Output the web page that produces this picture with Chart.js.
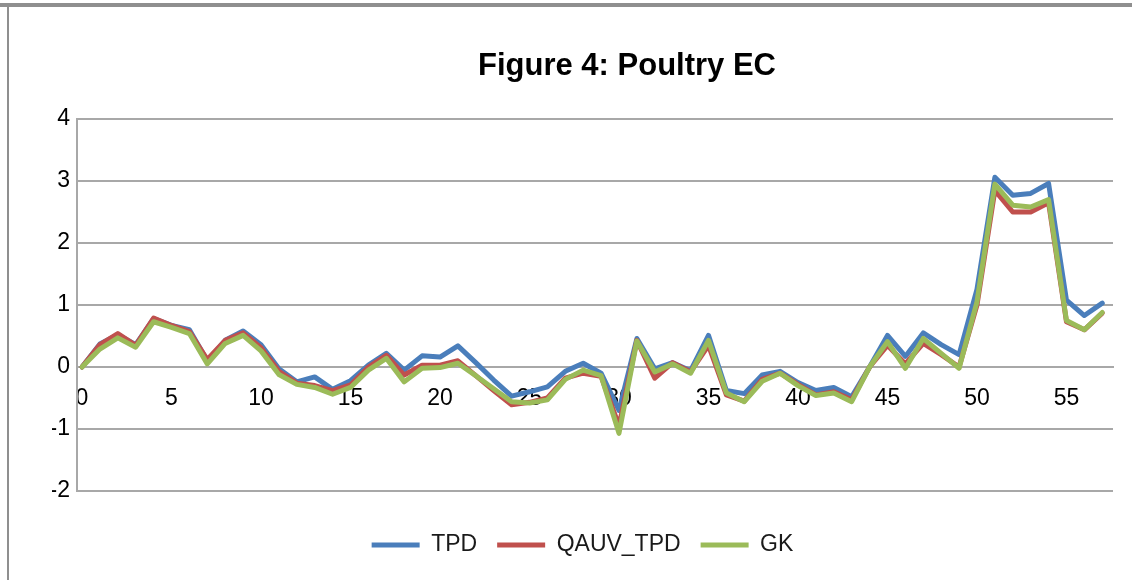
<!DOCTYPE html>
<html>
<head>
<meta charset="utf-8">
<script src="https://cdn.jsdelivr.net/npm/chart.js@4.4.1/dist/chart.umd.min.js"></script>
<style>
  body { margin: 0; background: #fff; }
  #wrap { position: relative; width: 1132px; height: 580px; overflow: hidden; }
  #topBar { position: absolute; left: 0; top: 3px; width: 1132px; height: 4px; background: #8f8f8f; }
  #leftBar { position: absolute; left: 7px; top: 3px; width: 2px; height: 577px; background: #8f8f8f; }
  #title {
    position: absolute; left: 427px; top: 49px; width: 400px; text-align: center;
    font: bold 31px/31px "Liberation Sans", Arial, sans-serif; color: #000;
  }
  canvas { position: absolute; left: 0; top: 0; }
</style>
</head>
<body>
<div id="wrap">
  <div id="topBar"></div>
  <div id="leftBar"></div>
  <canvas id="ecChart" width="1132" height="580"></canvas>
  <div id="title">Figure 4: Poultry EC</div>
</div>
<script>
const periods = [0, 1, 2, 3, 4, 5, 6, 7, 8, 9, 10, 11, 12, 13, 14, 15, 16, 17, 18, 19,
  20, 21, 22, 23, 24, 25, 26, 27, 28, 29, 30, 31, 32, 33, 34, 35, 36, 37, 38, 39,
  40, 41, 42, 43, 44, 45, 46, 47, 48, 49, 50, 51, 52, 53, 54, 55, 56, 57];

const tpd = [0, 0.37, 0.52, 0.36, 0.78, 0.67, 0.6, 0.1, 0.43, 0.58,
  0.36, -0.03, -0.24, -0.16, -0.36, -0.22, 0.03, 0.22, -0.05, 0.18,
  0.16, 0.34, 0.07, -0.21, -0.47, -0.4, -0.32, -0.07, 0.06, -0.1,
  -0.7, 0.46, -0.03, 0.07, -0.06, 0.51, -0.38, -0.43, -0.13, -0.07,
  -0.25, -0.38, -0.33, -0.48, 0.0, 0.51, 0.17, 0.55, 0.36, 0.2,
  1.25, 3.06, 2.77, 2.8, 2.96, 1.08, 0.83, 1.03];

const qauvTpd = [0, 0.36, 0.54, 0.35, 0.79, 0.67, 0.57, 0.12, 0.43, 0.55,
  0.31, -0.07, -0.26, -0.3, -0.38, -0.29, 0.0, 0.19, -0.13, 0.03,
  0.03, 0.1, -0.14, -0.38, -0.61, -0.57, -0.5, -0.18, -0.1, -0.15,
  -0.95, 0.43, -0.18, 0.07, -0.08, 0.35, -0.45, -0.55, -0.2, -0.1,
  -0.28, -0.45, -0.4, -0.53, 0.0, 0.35, 0.05, 0.38, 0.2, 0.0,
  1.0, 2.85, 2.5, 2.5, 2.65, 0.73, 0.6, 0.87];

const gk = [0, 0.29, 0.47, 0.32, 0.73, 0.64, 0.54, 0.05, 0.38, 0.51,
  0.26, -0.12, -0.28, -0.33, -0.44, -0.33, -0.05, 0.14, -0.24, -0.02,
  -0.01, 0.06, -0.14, -0.35, -0.56, -0.58, -0.53, -0.2, -0.05, -0.14,
  -1.07, 0.42, -0.08, 0.05, -0.1, 0.43, -0.42, -0.56, -0.23, -0.1,
  -0.3, -0.46, -0.42, -0.56, 0.0, 0.41, -0.02, 0.46, 0.22, -0.02,
  1.05, 2.95, 2.61, 2.58, 2.7, 0.75, 0.6, 0.88];

const xTicks = [0, 5, 10, 15, 20, 25, 30, 35, 40, 45, 50, 55];
const yTicks = [-2, -1, 0, 1, 2, 3, 4];

function toPoints(values) {
  return values.map((v, i) => ({ x: periods[i], y: v }));
}

const gridGray = '#a8a8a8';
const tickFont = { family: '"Liberation Sans", Arial, sans-serif', size: 23 };

const ctx = document.getElementById('ecChart').getContext('2d');
new Chart(ctx, {
  type: 'line',
  data: {
    datasets: [
      { label: 'TPD', data: toPoints(tpd), borderColor: '#4a7ebb', backgroundColor: '#4a7ebb', order: 3 },
      { label: 'QAUV_TPD', data: toPoints(qauvTpd), borderColor: '#c0504d', backgroundColor: '#c0504d', order: 2 },
      { label: 'GK', data: toPoints(gk), borderColor: '#9bbb59', backgroundColor: '#9bbb59', order: 1 }
    ]
  },
  options: {
    responsive: false,
    animation: false,
    datasets: {
      line: { borderWidth: 5, pointRadius: 0, tension: 0, borderCapStyle: 'round', borderJoinStyle: 'round' }
    },
    layout: { padding: { left: 52, right: 19, top: 119, bottom: 13.5 } },
    scales: {
      x: {
        type: 'linear',
        position: { y: 0 },
        min: -0.28,
        max: 57.6,
        afterBuildTicks: function (axis) {
          axis.ticks = xTicks.map(v => ({ value: v }));
        },
        grid: { display: false, drawTicks: false },
        border: { display: true, color: gridGray, width: 2 },
        ticks: { font: tickFont, color: '#000', padding: 18, maxRotation: 0 }
      },
      y: {
        min: -2,
        max: 4,
        afterBuildTicks: function (axis) {
          axis.ticks = yTicks.map(v => ({ value: v }));
        },
        afterFit: function (axis) { axis.width = 25; },
        grid: { color: gridGray, lineWidth: 2, drawTicks: false },
        border: { display: true, color: gridGray, width: 2 },
        ticks: { font: tickFont, color: '#000', padding: 7 }
      }
    },
    plugins: {
      title: { display: false },
      tooltip: { enabled: false },
      legend: {
        position: 'bottom',
        title: { display: true, text: '', font: { size: 10 }, padding: { top: 10.5, bottom: 0 } },
        labels: {
          usePointStyle: true,
          pointStyle: 'line',
          pointStyleWidth: 48,
          padding: 20,
          color: '#1a1a1a',
          font: tickFont,
          sort: (a, b) => a.datasetIndex - b.datasetIndex
        }
      }
    }
  }
});
</script>
</body>
</html>
